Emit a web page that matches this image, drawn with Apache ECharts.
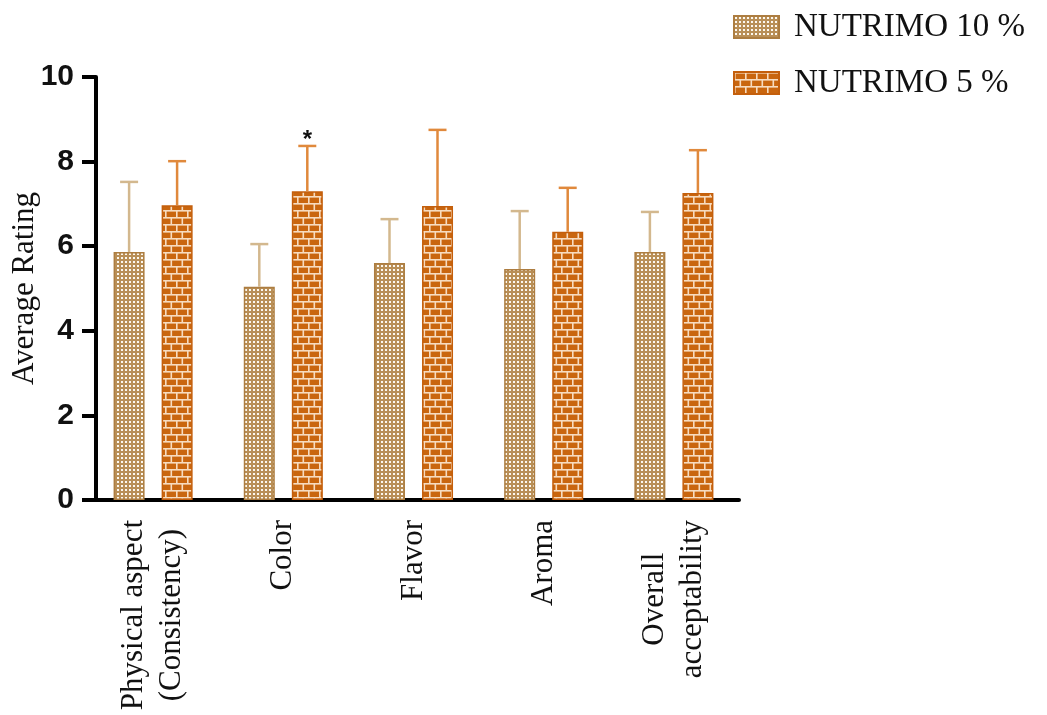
<!DOCTYPE html>
<html>
<head>
<meta charset="utf-8">
<script src="https://cdn.jsdelivr.net/npm/echarts@6/dist/echarts.min.js"></script>
<style>html,body{margin:0;padding:0;background:#fff}#c{width:1047px;height:715px}</style>
</head>
<body>
<div id="c"></div>
<script>
const categories = ['Physical aspect\n(Consistency)', 'Color', 'Flavor', 'Aroma', 'Overall\nacceptability'];
const seriesNames = ['NUTRIMO 10 %', 'NUTRIMO 5 %'];
const mean10 = [5.86, 5.04, 5.60, 5.46, 5.86];
const sd10   = [1.66, 1.01, 1.04, 1.37, 0.95];
const mean5  = [6.97, 7.30, 6.95, 6.34, 7.26];
const sd5    = [1.04, 1.07, 1.80, 1.04, 1.01];
const sig5   = ['', '*', '', '', ''];
const yTicks = [0, 2, 4, 6, 8, 10];

function checkerPattern() {
  const c = document.createElement('canvas');
  c.width = 4; c.height = 4;
  const g = c.getContext('2d');
  g.fillStyle = '#b98f57'; g.fillRect(0, 0, 4, 4);
  g.fillStyle = '#fdf8ef';
  g.fillRect(1, 1, 2, 2);
  return c;
}
function brickPattern() {
  const c = document.createElement('canvas');
  c.width = 22; c.height = 14;
  const g = c.getContext('2d');
  g.fillStyle = '#c9660f'; g.fillRect(0, 0, 22, 14);
  g.fillStyle = '#f7dcc0';
  g.fillRect(0, 0, 22, 1.6); g.fillRect(0, 7, 22, 1.6);
  g.fillRect(0, 0, 1.6, 7); g.fillRect(11, 0, 1.6, 7);
  g.fillRect(5.5, 7, 1.6, 7); g.fillRect(16.5, 7, 1.6, 7);
  return c;
}

const serif = '"Liberation Serif", "Times New Roman", serif';
const chart = echarts.init(document.getElementById('c'));

function errRender(offset, color, marks) {
  return function (params, api) {
    const i = api.value(0), m = api.value(1), s = api.value(2);
    const base = api.coord([i, m]);
    const top = api.coord([i, m + s]);
    const x = base[0] + offset;
    const children = [
      { type: 'line', shape: { x1: x, y1: base[1], x2: x, y2: top[1] }, style: { stroke: color, lineWidth: 2.5 } },
      { type: 'line', shape: { x1: x - 9, y1: top[1], x2: x + 9, y2: top[1] }, style: { stroke: color, lineWidth: 2.5 } }
    ];
    const star = marks ? marks[params.dataIndex] : '';
    if (star) {
      children.push({ type: 'text', style: { text: star, x: x, y: top[1] + 6, align: 'center', verticalAlign: 'bottom', font: 'bold 24px "Liberation Sans", Arial', fill: '#111' } });
    }
    return { type: 'group', children: children };
  };
}

chart.setOption({
  animation: false,
  backgroundColor: '#fff',
  legend: {
    orient: 'vertical', left: 728, top: 5, icon: 'rect',
    itemWidth: 45, itemHeight: 22, itemGap: 22,
    data: seriesNames,
    textStyle: { fontFamily: serif, fontSize: 33, color: '#111', lineHeight: 34, padding: [0, 0, 0, 10] }
  },
  grid: { left: 88, right: 308, top: 77, bottom: 215, containLabel: false, outerBoundsMode: 'none' },
  xAxis: {
    type: 'category', data: categories,
    axisLine: { lineStyle: { color: '#000', width: 4 } },
    axisTick: { alignWithLabel: true, length: 13, lineStyle: { color: '#000', width: 4 } },
    axisLabel: {
      rotate: 90, margin: 20, interval: 0,
      formatter: function (v) { return v.split('\n').map(function (l) { return '{c|' + l + '}'; }).join('\n'); },
      rich: { c: { align: 'center', fontFamily: serif, fontSize: 31, color: '#111', lineHeight: 38 } }
    }
  },
  yAxis: {
    type: 'value', min: yTicks[0], max: yTicks[yTicks.length - 1], interval: 2, offset: -8,
    name: 'Average Rating', nameLocation: 'middle', nameGap: 56, nameMoveOverlap: false,
    nameTextStyle: { fontFamily: serif, fontSize: 31, color: '#111' },
    axisLine: { show: true, lineStyle: { color: '#000', width: 4 } },
    axisTick: { show: true, length: 14, lineStyle: { color: '#000', width: 4 } },
    axisLabel: { margin: 22, fontFamily: '"Liberation Sans", Arial, sans-serif', fontWeight: 'bold', fontSize: 30, color: '#111' },
    splitLine: { show: false }
  },
  series: [
    {
      name: seriesNames[0], type: 'bar', data: mean10, barWidth: 31, barGap: '55%',
      itemStyle: { color: { image: checkerPattern(), repeat: 'repeat' }, borderColor: '#ad7d40', borderWidth: 1.5 }
    },
    {
      name: seriesNames[1], type: 'bar', data: mean5, barWidth: 31,
      itemStyle: { color: { image: brickPattern(), repeat: 'repeat' }, borderColor: '#c45f0c', borderWidth: 1.5 }
    },
    {
      name: seriesNames[0], type: 'custom', renderItem: errRender(-24, '#d3b88e', null),
      data: mean10.map(function (m, i) { return [i, m, sd10[i]]; }),
      encode: { x: 0, y: 1 }, z: 3
    },
    {
      name: seriesNames[1], type: 'custom', renderItem: errRender(24, '#e0893c', sig5),
      data: mean5.map(function (m, i) { return [i, m, sd5[i]]; }),
      encode: { x: 0, y: 1 }, z: 3
    }
  ]
});
</script>
</body>
</html>
